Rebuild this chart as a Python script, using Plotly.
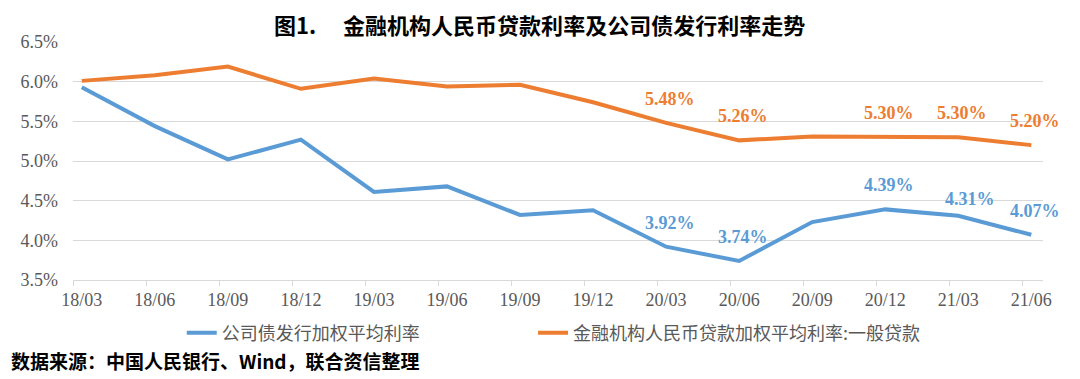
import plotly.graph_objects as go

categories = ["18/03", "18/06", "18/09", "18/12", "19/03", "19/06", "19/09",
              "19/12", "20/03", "20/06", "20/09", "20/12", "21/03", "21/06"]
bond_rate = [5.93, 5.44, 5.02, 5.27, 4.61, 4.68, 4.32, 4.38, 3.92, 3.74, 4.23, 4.39, 4.31, 4.07]
loan_rate = [6.01, 6.08, 6.19, 5.91, 6.04, 5.94, 5.96, 5.74, 5.48, 5.26, 5.31, 5.30, 5.30, 5.20]
bond_name = "公司债发行加权平均利率"
loan_name = "金融机构人民币贷款加权平均利率:一般贷款"
labeled_idx = [8, 9, 11, 12, 13]
y_ticks = [3.5, 4.0, 4.5, 5.0, 5.5, 6.0, 6.5]
y_ticktext = [f"{v:.1f}%" for v in y_ticks]

# page has an 8px body margin: size the figure to fill the rest of the window
OFF = 8
W, H = 1080 - OFF, 379 - OFF
ML, MT = 71 - OFF, 42 - OFF
MR = W - (1043 - OFF)
MB = H - (280 - OFF)
PW, PH = W - ML - MR, H - MT - MB

def px_x(p):
    return (p - OFF - ML) / PW

def px_y(p):
    return (H - MB - (p - OFF)) / PH

BLUE = "#5B9BD5"
ORANGE = "#ED7D31"
GRID = "#d9d9d9"
TXT = "#595959"
SERIF = "Liberation Serif"
CJK = "Noto Sans CJK SC"

x_idx = list(range(len(categories)))

fig = go.Figure()
fig.add_trace(go.Scatter(x=x_idx, y=bond_rate, mode="lines", name=bond_name,
                         line=dict(color=BLUE, width=4), legend="legend"))
fig.add_trace(go.Scatter(x=x_idx, y=loan_rate, mode="lines", name=loan_name,
                         line=dict(color=ORANGE, width=4), legend="legend2"))

# data labels
label_shift = {("b", 12): (12, 17)}
for i in labeled_idx:
    for key, series, col in (("o", loan_rate, ORANGE), ("b", bond_rate, BLUE)):
        xs, ys = label_shift.get((key, i), (4, 24))
        fig.add_annotation(x=i, y=series[i], text=f"{series[i]:.2f}%",
                           showarrow=False, xshift=xs, yshift=ys,
                           font=dict(family=SERIF, size=18, color=col, weight="bold"))

# title
fig.add_annotation(xref="paper", yref="paper", x=px_x(538), y=px_y(24),
                   xanchor="center", yanchor="middle", showarrow=False, borderpad=0,
                   text="图1.\u3000\u00a0金融机构人民币贷款利率及公司债发行利率走势",
                   font=dict(family=CJK, size=22, color="#000000", weight="bold"))
# source
fig.add_annotation(xref="paper", yref="paper", x=px_x(7), y=px_y(360),
                   xanchor="left", yanchor="middle", showarrow=False,
                   text="数据来源：中国人民银行、Wind，联合资信整理",
                   font=dict(family=CJK, size=19, color="#000000", weight="bold"))

leg_common = dict(orientation="h", yanchor="middle", xanchor="left",
                  font=dict(family=CJK, size=18, color=TXT),
                  itemwidth=30, bgcolor="rgba(0,0,0,0)")

fig.update_layout(
    width=W, height=H,
    margin=dict(l=ML, r=MR, t=MT, b=MB),
    paper_bgcolor="white", plot_bgcolor="white",
    showlegend=True,
    legend=dict(x=px_x(180), y=px_y(333), **leg_common),
    legend2=dict(x=px_x(532), y=px_y(333), **leg_common),
    xaxis=dict(range=[-0.12, 13.16], tickvals=x_idx, ticktext=categories,
               ticks="", showgrid=False, zeroline=False,
               showline=True, linecolor=GRID, linewidth=1,
               tickfont=dict(family=SERIF, size=18, color=TXT),
               ticklabelstandoff=3,
               minor=dict(tickvals=[i - 0.12 for i in x_idx], ticks="outside",
                          ticklen=5, tickcolor=GRID, tickwidth=1, showgrid=False)),
    yaxis=dict(range=[3.5, 6.5], tickvals=y_ticks, ticktext=y_ticktext,
               showgrid=True, gridcolor=GRID, gridwidth=1, zeroline=False,
               showline=False, ticks="",
               tickfont=dict(family=SERIF, size=18, color=TXT),
               ticklabelstandoff=14),
)

fig.write_html("out.html")
